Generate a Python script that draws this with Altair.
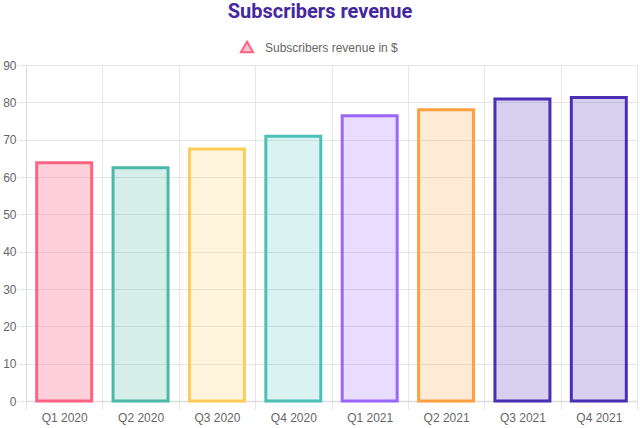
import altair as alt
import pandas as pd

# Quarterly subscriber revenue
quarters = ["Q1 2020", "Q2 2020", "Q3 2020", "Q4 2020",
            "Q1 2021", "Q2 2021", "Q3 2021", "Q4 2021"]
revenue = [63.8, 62.5, 67.5, 70.9, 76.4, 78.0, 80.9, 81.3]
stroke_colors = ["#ff6384", "#4bb8a8", "#ffcd56", "#4bc0b4",
                 "#9966ff", "#ff9f40", "#4a2fb5", "#4a2fb5"]
fill_colors = ["#ff6384", "#4bb8a0", "#ffcd56", "#4bc0c0",
               "#9966ff", "#ff9f40", "#4a2fb5", "#4a2fb5"]
fill_alpha = [0.3, 0.22, 0.2, 0.2, 0.22, 0.22, 0.22, 0.22]
legend_label = "Subscribers revenue in $"
title_text = "Subscribers revenue"

df = pd.DataFrame({
    "quarter": quarters,
    "revenue": revenue,
    "stroke": stroke_colors,
    "fill": fill_colors,
    "alpha": fill_alpha,
})

W, H = 611, 336
GRID = "#e6e6e6"
LABEL = "#666666"
FONT = "Liberation Sans"

bars = alt.Chart(df).mark_bar(
    strokeWidth=3, width=alt.RelativeBandSize(0.72)
).encode(
    x=alt.X(
        "quarter:N", sort=quarters, title=None,
        scale=alt.Scale(paddingInner=0, paddingOuter=0),
        axis=alt.Axis(
            labelAngle=0, tickBand="extent", grid=True, gridColor=GRID,
            tickColor=GRID, tickSize=8, domainColor="#dddddd", domainWidth=1.5,
            labelColor=LABEL, labelFontSize=12, labelFont=FONT, labelPadding=3,
        ),
    ),
    y=alt.Y(
        "revenue:Q", title=None,
        scale=alt.Scale(domain=[0, 90], nice=False),
        axis=alt.Axis(
            values=list(range(0, 91, 10)), grid=True, gridColor=GRID,
            tickColor=GRID, tickSize=8, domainColor="#dddddd",
            labelColor=LABEL, labelFontSize=12, labelFont=FONT, labelPadding=2,
        ),
    ),
    fill=alt.Fill("fill:N", scale=None),
    fillOpacity=alt.FillOpacity("alpha:Q", scale=None),
    stroke=alt.Stroke("stroke:N", scale=None),
)

# chart heading
head_df = pd.DataFrame({"label": [title_text]})
heading = alt.Chart(head_df).mark_text(
    align="center", baseline="middle", fontSize=20, font="Roboto",
    fontWeight="bold", color="#4527a0",
).encode(x=alt.value(294), y=alt.value(-53), text="label:N")

# legend entry
legend_df = pd.DataFrame({"label": [legend_label]})
legend_symbol = alt.Chart(legend_df).mark_point(
    shape="triangle-up", size=150, filled=True,
    fill="#ffc2cf", stroke="#ff6384", strokeWidth=2, opacity=1,
).encode(x=alt.value(221), y=alt.value(-18))
legend_text = alt.Chart(legend_df).mark_text(
    align="left", baseline="middle", fontSize=12, font=FONT, color=LABEL,
).encode(x=alt.value(239), y=alt.value(-17), text="label:N")

chart = alt.layer(bars, heading, legend_symbol, legend_text).properties(
    width=W, height=H,
    padding={"left": 26, "top": 65, "right": 3, "bottom": 27},
    autosize=alt.AutoSizeParams(type="none"),
).configure_view(stroke=None)

chart.save("out.html", embed_options={"renderer": "svg", "actions": False})
